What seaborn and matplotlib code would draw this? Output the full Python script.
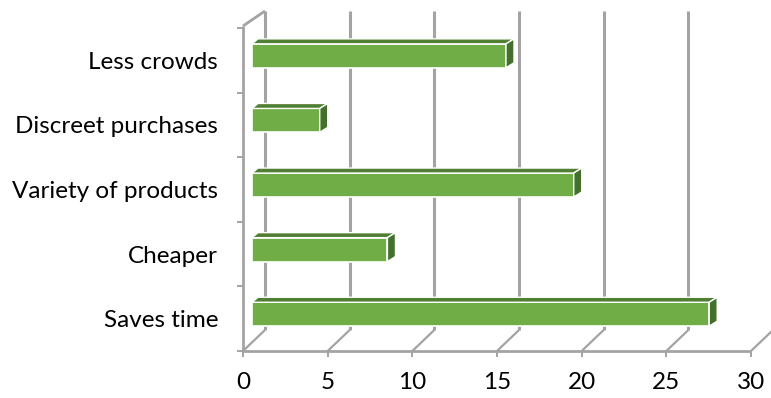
import numpy as np
import matplotlib
matplotlib.use("Agg")
import matplotlib.pyplot as plt
import seaborn as sns
from matplotlib.patches import Polygon
from matplotlib.lines import Line2D
from matplotlib.transforms import ScaledTranslation

# data (top to bottom)
categories = ["Less crowds", "Discreet purchases", "Variety of products", "Cheaper", "Saves time"]
values = [15, 4, 19, 8, 27]
x_ticks = [0, 5, 10, 15, 20, 25, 30]

W, H = 771, 398
FRONT = "#70ad47"
TOP = "#507f33"
SIDE = "#43702a"
GRID = "#a3a3a3"

sns.set_theme(style="white")
plt.rcParams["font.family"] = ["Lato", "DejaVu Sans"]

fig = plt.figure(figsize=(W / 100, H / 100), dpi=100)
# front plane of the 3d box: x from px 243 to 751, y from px 28 to 351
ax = fig.add_axes([243 / W, (H - 351) / H, 508 / W, 323 / H])
ax.set_facecolor("none")

sns.barplot(x=values, y=categories, orient="h", color=FRONT, saturation=1,
            width=0.37, edgecolor="white", linewidth=1.2, ax=ax)
ax.set_xlim(0, 30)
ax.set_ylim(4.5, -0.5)
ax.set_xticks(x_ticks)
ax.set_xlabel("")
ax.set_ylabel("")
for s in ax.spines.values():
    s.set_visible(False)
ax.tick_params(axis="both", length=0, labelsize=17.5, colors="black")
ax.tick_params(axis="y", pad=18)
ax.tick_params(axis="x", pad=15)


def px(x, y):
    # pixel (top-left origin) -> figure fraction
    return x / W, 1 - y / H


def line(x1, y1, x2, y2, lw=2.0):
    a, b = px(x1, y1)
    c, d = px(x2, y2)
    fig.add_artist(Line2D([a, c], [b, d], transform=fig.transFigure,
                          color=GRID, lw=lw, zorder=-1, solid_capstyle="butt"))


# depth of the box in pixels
DX, DY = 22, 21
floor = 351
xs = ax.transData.transform([(v, 0) for v in x_ticks])[:, 0]

line(xs[0], floor, xs[-1], floor)             # front floor edge
line(xs[0], floor, xs[0], 26)                 # left wall front edge
line(xs[0], 26, xs[0] + DX, 11)               # left wall top edge
for i, x in enumerate(xs):
    line(x, floor, x + DX, floor - DY, lw=1.6)   # floor diagonals
    line(x, floor, x, floor + 6, lw=1.4)         # x ticks
    if i < len(xs) - 1:
        line(x + DX, floor - DY, x + DX, 11, lw=2.2)  # back wall gridlines
ys = ax.transData.transform([(0, k - 0.5) for k in range(len(categories) + 1)])[:, 1]
for y in ys:
    line(xs[0] - 6, H - y, xs[0], H - y, lw=1.4)  # category ticks

# shift bars into the box and add top / side faces
shift = ax.transData + ScaledTranslation(9 / 100, 4.5 / 100, fig.dpi_scale_trans)
bdx, bdy = 8, 5
for p in ax.patches:
    p.set_transform(shift)
    x0, y0 = p.get_x(), p.get_y()
    x1, y1 = x0 + p.get_width(), y0 + p.get_height()
    (L, T), (R, B) = shift.transform([(x0, y0), (x1, y1)])
    top = [(L, T), (R, T), (R + bdx, T + bdy), (L + bdx - 2, T + bdy)]
    side = [(R, B), (R, T), (R + bdx, T + bdy), (R + bdx, B + bdy)]
    for pts, col in ((top, TOP), (side, SIDE)):
        pts = [(a / W, b / H) for a, b in pts]
        ax.add_artist(Polygon(pts, closed=True, transform=fig.transFigure,
                              facecolor=col, edgecolor="white", lw=1.0,
                              clip_on=False, zorder=3))

fig.savefig("out.png", dpi=100)
